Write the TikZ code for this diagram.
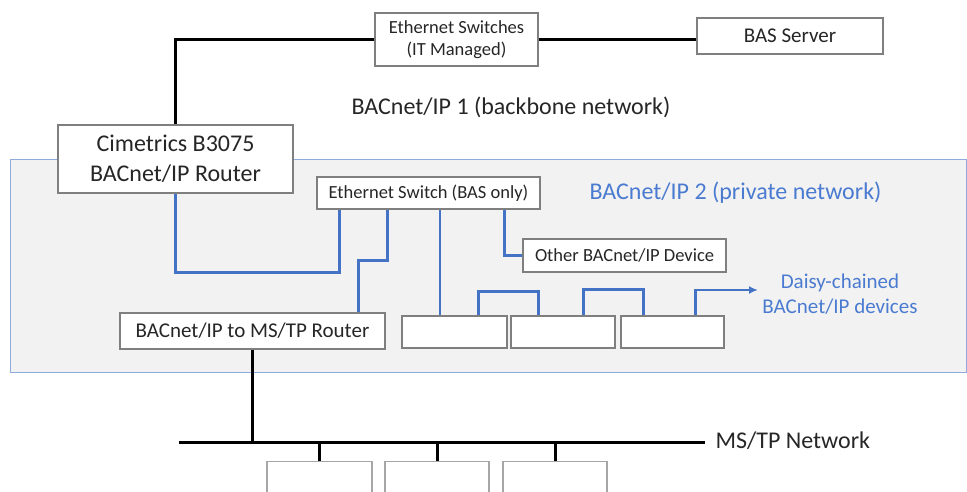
\documentclass[tikz,border=0pt]{standalone}
\usepackage{fontspec}
\setmainfont{Carlito}
\usetikzlibrary{arrows.meta,calc}
\definecolor{txt}{HTML}{262626}
\definecolor{bline}{HTML}{4472C4}
\definecolor{btxt}{HTML}{4A7BD0}
\definecolor{regfill}{HTML}{F2F2F2}
\definecolor{regdraw}{HTML}{8FAADC}
\definecolor{boxdraw}{HTML}{7F7F7F}
\definecolor{boxlight}{HTML}{A6A6A6}
\begin{document}
\begin{tikzpicture}[x=1pt,y=-1pt,
  box/.style={draw=boxdraw,line width=1.1pt,fill=white,inner sep=0pt,text=txt,align=center},
  blk/.style={line width=2.4pt,black},
  busline/.style={line width=3pt,black},
  bl/.style={line width=2.2pt,bline},
  big/.style={font=\fontsize{24}{30}\selectfont},
  mid/.style={font=\fontsize{21}{25}\selectfont},
  small/.style={font=\fontsize{18.5}{22}\selectfont}]
\useasboundingbox (0,0) rectangle (967,492);
\clip (0,0) rectangle (967,492);
% private network region
\path[fill=regfill,draw=regdraw,line width=1pt] (10,160) rectangle (966,372);
% boxes
\node[box,small,minimum width=163pt,minimum height=53pt] (sw1) at (456.5,39.5) {Ethernet Switches\\(IT Managed)};
\node[box,mid,minimum width=186pt,minimum height=36pt] (bas) at (790,36) {BAS Server};
\node[box,big,minimum width=235pt,minimum height=68pt] (rt1) at (175.5,159) {Cimetrics B3075\\BACnet/IP Router};
\node[box,small,minimum width=223pt,minimum height=32pt] (sw2) at (428.5,193) {Ethernet Switch (BAS only)};
\node[box,small,minimum width=203pt,minimum height=33pt] (other) at (624.5,255.5) {Other BACnet/IP Device};
\node[box,mid,minimum width=265pt,minimum height=36pt] (rt2) at (252.5,331) {BACnet/IP to MS/TP Router};
\node[box,minimum width=105pt,minimum height=32pt] (d1) at (454.5,332) {};
\node[box,minimum width=104pt,minimum height=32pt] (d2) at (563,332) {};
\node[box,minimum width=103pt,minimum height=32pt] (d3) at (672.5,332) {};
\node[box,draw=boxlight,minimum width=105pt,minimum height=40pt,anchor=north] (m1) at (319.5,461) {};
\node[box,draw=boxlight,minimum width=104pt,minimum height=40pt,anchor=north] (m2) at (437,461) {};
\node[box,draw=boxlight,minimum width=104pt,minimum height=40pt,anchor=north] (m3) at (555,461) {};
% labels
\node[big,text=txt] (lab1) at (511,107) {BACnet/IP 1 (backbone network)};
\node[big,text=btxt] (lab2) at (735.5,193) {BACnet/IP 2 (private network)};
\node[mid,text=btxt,align=center] (lab3) at (840,294.5) {Daisy-chained\\BACnet/IP devices};
% backbone lines
\coordinate (corner) at (175.5,39.5);
\draw[blk] (sw1.west) -- (corner) -- (rt1.north);
\draw[blk] (sw1.east) -- (sw1.east -| bas.west);
% blue lines
\coordinate (s1) at ([xshift=23pt]sw2.south west);
\coordinate (s2) at ([xshift=71pt]sw2.south west);
\coordinate (s4) at ([xshift=188pt]sw2.south west);
\coordinate (r2in) at ([xshift=239pt]rt2.north west);
\coordinate (t3) at ([xshift=-14.5pt]d1.north);
\draw[bl] (rt1.south) -- ++(0,79) -| (s1);
\draw[bl] (s2) -- ++(0,51) -| (r2in);
\draw[bl] (t3) -- (t3 |- sw2.south);
\draw[bl] (s4) |- (other.west);
% daisy chain
\coordinate (a1) at ([xshift=77pt]d1.north west);
\coordinate (a2) at ([xshift=28pt]d2.north west);
\coordinate (b1) at ([xshift=73pt]d2.north west);
\coordinate (b2) at ([xshift=23pt]d3.north west);
\coordinate (c1) at ([xshift=75pt]d3.north west);
\coordinate (dtip) at (758,290);
\draw[bl] (a1) -- ++(0,-24) -| (a2);
\draw[bl] (b1) -- ++(0,-26) -| (b2);
\draw[bl,-{Latex[length=9pt,width=8pt]}] (c1) |- (dtip);
% MS/TP bus
\coordinate (busL) at (179,442);
\coordinate (busR) at (705,442);
\draw[busline] (busL) -- (busR);
\draw[busline] (rt2.south) -- (rt2.south |- busL);
\draw[busline] (m1.north |- busL) -- (m1.north);
\draw[busline] (m2.north |- busL) -- (m2.north);
\draw[busline] (m3.north |- busL) -- (m3.north);
\node[big,text=txt,anchor=west] (lab4) at (712,441) {MS/TP Network};
\end{tikzpicture}
\end{document}
